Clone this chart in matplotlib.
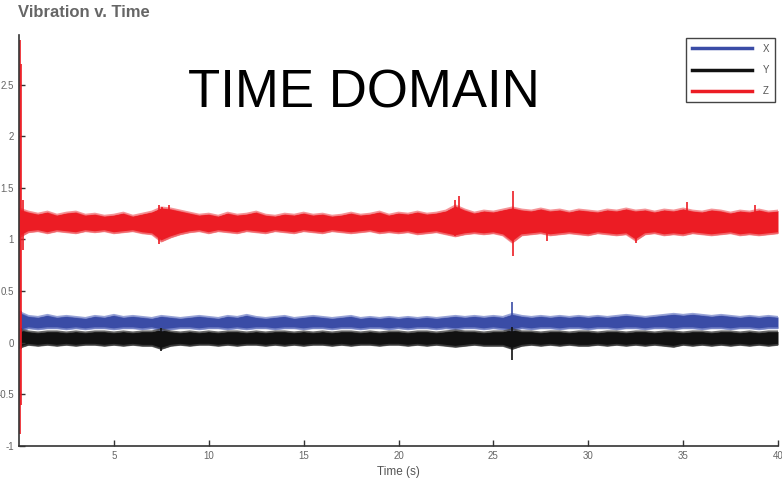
import numpy as np
import matplotlib
matplotlib.use("Agg")
import matplotlib.pyplot as plt
from matplotlib.lines import Line2D

plt.rcParams['font.family'] = ['Liberation Sans Narrow', 'Liberation Sans', 'DejaVu Sans']

# sample grid (s) for the noise envelopes
t = np.arange(0, 40.5, 0.5)

# Z (red) envelope
z_hi = [1.30, 1.27, 1.25, 1.27, 1.24, 1.26, 1.27, 1.24, 1.25, 1.23,
        1.24, 1.26, 1.23, 1.25, 1.27, 1.31, 1.30, 1.28, 1.26, 1.24,
        1.25, 1.23, 1.26, 1.24, 1.25, 1.27, 1.24, 1.23, 1.25, 1.24,
        1.26, 1.24, 1.25, 1.23, 1.24, 1.26, 1.24, 1.25, 1.27, 1.24,
        1.26, 1.25, 1.27, 1.25, 1.26, 1.28, 1.33, 1.29, 1.26, 1.28,
        1.27, 1.29, 1.31, 1.29, 1.28, 1.30, 1.28, 1.29, 1.27, 1.29,
        1.28, 1.27, 1.29, 1.28, 1.30, 1.28, 1.29, 1.27, 1.29, 1.28,
        1.30, 1.28, 1.27, 1.29, 1.28, 1.26, 1.28, 1.27, 1.29, 1.27,
        1.28]
z_lo = [1.02, 1.07, 1.08, 1.06, 1.08, 1.07, 1.06, 1.08, 1.07, 1.08,
        1.06, 1.07, 1.08, 1.06, 1.05, 0.98, 1.02, 1.05, 1.07, 1.08,
        1.06, 1.08, 1.07, 1.06, 1.08, 1.07, 1.06, 1.08, 1.07, 1.06,
        1.08, 1.07, 1.06, 1.08, 1.07, 1.06, 1.07, 1.08, 1.06, 1.07,
        1.06, 1.07, 1.05, 1.06, 1.07, 1.05, 1.03, 1.05, 1.06, 1.05,
        1.06, 1.04, 0.97, 1.04, 1.05, 1.06, 1.04, 1.05, 1.06, 1.05,
        1.04, 1.06, 1.05, 1.04, 1.05, 0.99, 1.05, 1.06, 1.04, 1.05,
        1.04, 1.06, 1.05, 1.04, 1.05, 1.06, 1.04, 1.05, 1.04, 1.05,
        1.06]

# X (blue) envelope
x_hi = [0.30, 0.26, 0.25, 0.27, 0.25, 0.26, 0.25, 0.24, 0.26, 0.25,
        0.27, 0.25, 0.26, 0.25, 0.24, 0.26, 0.25, 0.24, 0.25, 0.26,
        0.25, 0.24, 0.26, 0.25, 0.27, 0.25, 0.24, 0.25, 0.26, 0.24,
        0.25, 0.26, 0.25, 0.24, 0.25, 0.26, 0.24, 0.25, 0.24, 0.25,
        0.24, 0.25, 0.24, 0.25, 0.24, 0.25, 0.26, 0.25, 0.26, 0.25,
        0.26, 0.25, 0.28, 0.26, 0.25, 0.26, 0.25, 0.26, 0.25, 0.26,
        0.25, 0.26, 0.25, 0.26, 0.27, 0.26, 0.25, 0.26, 0.27, 0.28,
        0.27, 0.28, 0.27, 0.26, 0.27, 0.26, 0.25, 0.26, 0.25, 0.26,
        0.25]
x_lo = [0.11, 0.14, 0.13, 0.14, 0.14, 0.13, 0.14, 0.13, 0.14, 0.14,
        0.13, 0.14, 0.14, 0.13, 0.14, 0.12, 0.13, 0.14, 0.14, 0.13,
        0.14, 0.14, 0.13, 0.14, 0.13, 0.14, 0.14, 0.13, 0.14, 0.14,
        0.13, 0.14, 0.14, 0.13, 0.14, 0.14, 0.13, 0.14, 0.14, 0.13,
        0.14, 0.13, 0.14, 0.14, 0.13, 0.14, 0.13, 0.14, 0.14, 0.13,
        0.14, 0.13, 0.12, 0.14, 0.13, 0.14, 0.14, 0.13, 0.14, 0.14,
        0.13, 0.14, 0.14, 0.13, 0.14, 0.14, 0.13, 0.14, 0.14, 0.13,
        0.14, 0.14, 0.13, 0.14, 0.14, 0.13, 0.14, 0.14, 0.13, 0.14,
        0.14]

# Y (black) envelope
y_hi = [0.13, 0.11, 0.10, 0.11, 0.11, 0.10, 0.11, 0.10, 0.11, 0.11,
        0.10, 0.11, 0.10, 0.11, 0.11, 0.13, 0.11, 0.10, 0.11, 0.10,
        0.11, 0.10, 0.11, 0.11, 0.10, 0.11, 0.10, 0.11, 0.11, 0.10,
        0.11, 0.10, 0.11, 0.10, 0.11, 0.11, 0.10, 0.11, 0.10, 0.11,
        0.11, 0.10, 0.11, 0.11, 0.10, 0.11, 0.12, 0.11, 0.11, 0.10,
        0.11, 0.11, 0.13, 0.11, 0.11, 0.10, 0.11, 0.11, 0.10, 0.11,
        0.11, 0.10, 0.11, 0.11, 0.10, 0.11, 0.11, 0.10, 0.11, 0.11,
        0.10, 0.11, 0.11, 0.10, 0.11, 0.11, 0.10, 0.11, 0.10, 0.11,
        0.11]
y_lo = [-0.05, -0.02, -0.03, -0.02, -0.03, -0.02, -0.03, -0.02, -0.02, -0.03,
        -0.02, -0.03, -0.02, -0.03, -0.03, -0.06, -0.03, -0.02, -0.03, -0.02,
        -0.02, -0.03, -0.02, -0.03, -0.02, -0.02, -0.03, -0.02, -0.03, -0.02,
        -0.03, -0.02, -0.02, -0.03, -0.02, -0.03, -0.02, -0.02, -0.03, -0.02,
        -0.02, -0.03, -0.02, -0.03, -0.02, -0.03, -0.04, -0.03, -0.02, -0.03,
        -0.03, -0.03, -0.06, -0.03, -0.02, -0.03, -0.02, -0.03, -0.02, -0.03,
        -0.03, -0.02, -0.03, -0.02, -0.03, -0.02, -0.03, -0.02, -0.03, -0.04,
        -0.02, -0.03, -0.02, -0.03, -0.02, -0.03, -0.02, -0.03, -0.02, -0.03,
        -0.02]

# isolated transients: time, low, high
z_spk_t = [0.05, 0.12, 0.2, 7.4, 7.55, 7.9, 23.0, 23.2, 26.05, 27.8, 32.5, 35.2, 38.8]
z_spk_lo = [-0.88, -0.60, 0.90, 0.96, 1.00, 1.04, 1.03, 1.05, 0.84, 0.99, 0.97, 1.06, 1.07]
z_spk_hi = [2.93, 2.70, 1.38, 1.33, 1.31, 1.33, 1.38, 1.42, 1.47, 1.27, 1.27, 1.36, 1.33]
x_spk_t = [0.1, 26.0]
x_spk_lo = [0.05, 0.13]
x_spk_hi = [0.31, 0.39]
y_spk_t = [0.1, 7.5, 26.0]
y_spk_lo = [-0.06, -0.08, -0.165]
y_spk_hi = [0.14, 0.14, 0.15]

labels = ['X', 'Y', 'Z']
colors = ['#3a4ca6', '#111111', '#ec1c24']
edge_colors = ['#7f8ccc', '#444444', '#f27a7e']

fig = plt.figure(figsize=(7.82, 4.80), dpi=100)
ax = fig.add_axes([19 / 782, 34 / 480, 759 / 782, 411 / 480])

series = [
    (x_hi, x_lo, x_spk_t, x_spk_lo, x_spk_hi),
    (y_hi, y_lo, y_spk_t, y_spk_lo, y_spk_hi),
    (z_hi, z_lo, z_spk_t, z_spk_lo, z_spk_hi),
]
for (hi, lo, st, slo, shi), c, ec in zip(series, colors, edge_colors):
    ax.fill_between(t, lo, hi, color=c, linewidth=0)
    ax.plot(t, hi, color=ec, linewidth=1.4, alpha=0.8)
    ax.plot(t, lo, color=ec, linewidth=1.4, alpha=0.8)
    ax.vlines(st, slo, shi, color=c, linewidth=1.2)

ax.set_xlim(0, 40)
ax.set_ylim(-1, 2.98)
ax.set_xticks([5, 10, 15, 20, 25, 30, 35, 40])
ax.set_yticks([-1, -0.5, 0, 0.5, 1, 1.5, 2, 2.5])
ax.set_yticklabels(['-1', '-0.5', '0', '0.5', '1', '1.5', '2', '2.5'])
ax.tick_params(direction='in', length=4, width=1, colors='#333333',
               labelcolor='#666666', labelsize=7)
ax.tick_params(axis='y', pad=3.5)
ax.tick_params(axis='x', pad=3.5)
for side in ['top', 'right']:
    ax.spines[side].set_visible(False)
for side in ['left', 'bottom']:
    ax.spines[side].set_color('#333333')
    ax.spines[side].set_linewidth(1.2)

ax.set_xlabel('Time (s)', fontsize=8.5, color='#555555', labelpad=4)

fig.text(18 / 782, 1 - 5 / 480, 'Vibration v. Time', fontsize=12, fontweight='bold',
         color='#666666', ha='left', va='top')
fig.text(364 / 782, 1 - 107 / 480, 'TIME DOMAIN', fontsize=38, color='black',
         ha='center', va='baseline', family=['Liberation Sans', 'DejaVu Sans'])

handles = [Line2D([0], [0], color=c, linewidth=2.5) for c in colors]
leg = ax.legend(handles, labels, loc='upper right',
                bbox_to_anchor=(775 / 782, 1 - 38 / 480),
                bbox_transform=fig.transFigure, fontsize=7, handlelength=6.2,
                labelspacing=1.15, fancybox=False, framealpha=1, borderpad=0.6,
                handletextpad=1.1, borderaxespad=0)
leg.get_frame().set_edgecolor('#444444')
leg.get_frame().set_linewidth(1.0)
for txt in leg.get_texts():
    txt.set_color('#555555')

fig.savefig('out.png', dpi=100)
